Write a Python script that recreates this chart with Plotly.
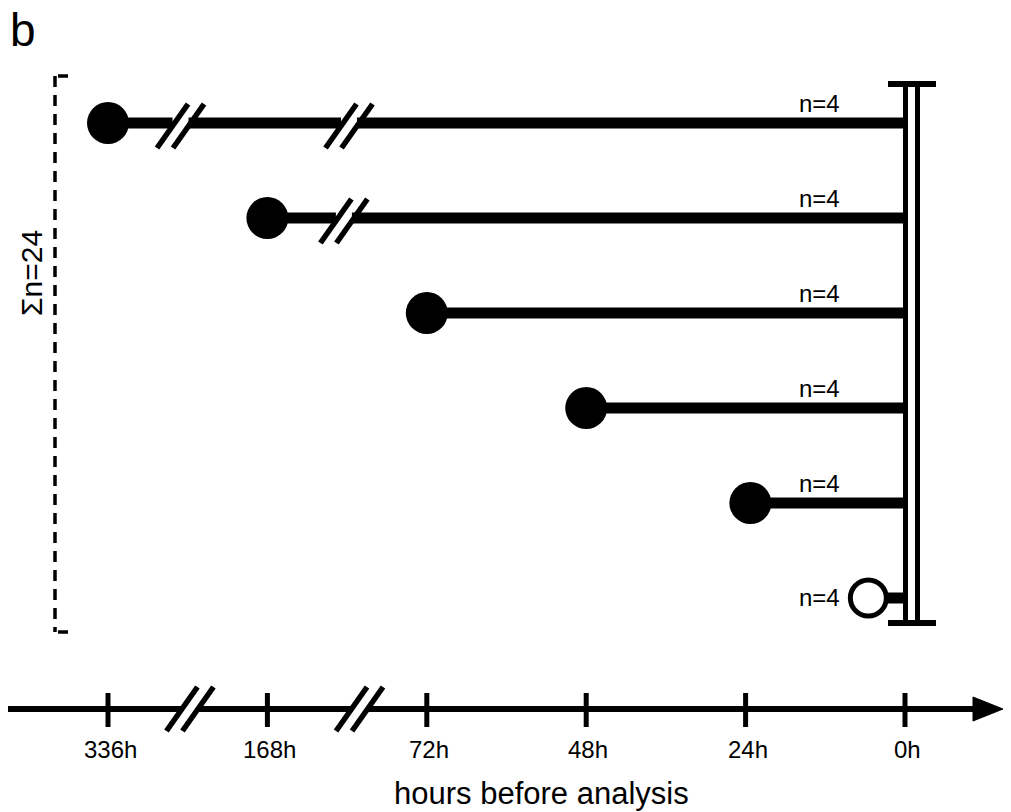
import plotly.graph_objects as go

# ---------------- data ----------------
tick_labels = ["336h", "168h", "72h", "48h", "24h", "0h"]
tick_pos = [0, 1, 2, 3, 4, 5]
rows = [0, 1, 2, 3, 4, 5]
start_x = [0.0, 1.0, 2.0, 3.0, 4.03, 4.77]
start_filled = [True, True, True, True, True, False]
end_x = 5
n_labels = ["n=4", "n=4", "n=4", "n=4", "n=4", "n=4"]
total_label = "Σn=24"
row_breaks = [[0.455, 1.512], [1.48], [], [], [], []]
axis_breaks = [0.514, 1.578]
axis_title = "hours before analysis"
panel_label = "b"

# ---------------- layout constants ----------------
W, H = 1011, 812
X0_PX, PX_PER_X = 108, 159.4
Y0_PX, PX_PER_ROW = 123, 95


def xu(px):
    return px / PX_PER_X


def yu(px):
    return px / PX_PER_ROW


def xv(px):
    return (px - X0_PX) / PX_PER_X


def yv(px):
    return (px - Y0_PX) / PX_PER_ROW


FONT = "Liberation Sans, Arial, Helvetica, sans-serif"
fig = go.Figure()

# slash geometry
SL_DX, SL_DY, SL_OFF = xu(15.5), yu(22), xu(8)


def slash_segments(cx, cy, dy_shift=0.0):
    xs, ys = [], []
    for s in (-SL_OFF, SL_OFF):
        xs += [cx + s - SL_DX, cx + s + SL_DX, None]
        ys += [cy + dy_shift + SL_DY, cy + dy_shift - SL_DY, None]
    return xs, ys


# timeline lines (broken at the // marks)
lx, ly = [], []
sx, sy = [], []
for r, x0, brks in zip(rows, start_x, row_breaks):
    pts = [x0]
    for b in brks:
        pts += [b - SL_OFF, b + SL_OFF]
    pts.append(end_x)
    for i in range(0, len(pts), 2):
        lx += [pts[i], pts[i + 1], None]
        ly += [r, r, None]
    for b in brks:
        a, c = slash_segments(b, r, yu(3))
        sx += a
        sy += c

fig.add_trace(go.Scatter(x=lx, y=ly, mode="lines",
                         line=dict(color="black", width=11), hoverinfo="skip"))

# axis
AX_Y = yv(709)
AX_LEFT = xv(8)
ARROW_BASE = xv(973)
ARROW_TIP = xv(1003)
ax_pts = [AX_LEFT]
for b in axis_breaks:
    ax_pts += [b - SL_OFF, b + SL_OFF]
ax_pts.append(ARROW_BASE)
axx, axy = [], []
for i in range(0, len(ax_pts), 2):
    axx += [ax_pts[i], ax_pts[i + 1], None]
    axy += [AX_Y, AX_Y, None]
for b in axis_breaks:
    a, c = slash_segments(b, AX_Y)
    sx += a
    sy += c
fig.add_trace(go.Scatter(x=axx, y=axy, mode="lines",
                         line=dict(color="black", width=6), hoverinfo="skip"))
fig.add_trace(go.Scatter(x=sx, y=sy, mode="lines",
                         line=dict(color="black", width=5.5), hoverinfo="skip"))
fig.add_trace(go.Scatter(x=[ARROW_BASE, ARROW_TIP, ARROW_BASE, ARROW_BASE],
                         y=[AX_Y - yu(12), AX_Y, AX_Y + yu(12), AX_Y - yu(12)],
                         mode="lines", fill="toself", fillcolor="black",
                         line=dict(color="black", width=1), hoverinfo="skip"))
# axis ticks
tx, ty = [], []
for p in tick_pos:
    tx += [p, p, None]
    ty += [yv(693), yv(727), None]
fig.add_trace(go.Scatter(x=tx, y=ty, mode="lines",
                         line=dict(color="black", width=5), hoverinfo="skip"))

# double vertical bar at 0h
BAR_TOP, BAR_BOT = yv(84), yv(623)
for off in (xu(0.5), xu(12.5)):
    fig.add_trace(go.Scatter(x=[end_x + off, end_x + off], y=[BAR_TOP - yu(3), BAR_BOT + yu(3)],
                             mode="lines", line=dict(color="black", width=5), hoverinfo="skip"))
for yy in (BAR_TOP, BAR_BOT):
    fig.add_trace(go.Scatter(x=[xv(888), xv(936)], y=[yy, yy], mode="lines",
                             line=dict(color="black", width=6), hoverinfo="skip"))

# start markers
fx = [x for x, f in zip(start_x, start_filled) if f]
fy = [r for r, f in zip(rows, start_filled) if f]
ox = [x for x, f in zip(start_x, start_filled) if not f]
oy = [r for r, f in zip(rows, start_filled) if not f]
fig.add_trace(go.Scatter(x=fx, y=fy, mode="markers",
                         marker=dict(size=42, color="black", line=dict(width=0)), hoverinfo="skip"))
fig.add_trace(go.Scatter(x=ox, y=oy, mode="markers",
                         marker=dict(size=36, color="white", line=dict(width=5, color="black")),
                         hoverinfo="skip"))

# dashed bracket
BR_X = xv(55)
BR_TOP, BR_BOT = yv(76), yv(632)
fig.add_trace(go.Scatter(x=[BR_X, BR_X], y=[BR_TOP, BR_BOT], mode="lines",
                         line=dict(color="black", width=3.5, dash="11px,8px"), hoverinfo="skip"))
for yy in (BR_TOP, BR_BOT):
    fig.add_trace(go.Scatter(x=[xv(58), xv(68)], y=[yy, yy], mode="lines",
                             line=dict(color="black", width=3.5), hoverinfo="skip"))

ann = []
# n labels
for r, lab in zip(rows, n_labels):
    dy = yu(-20) if r < 5 else yu(-1)
    ann.append(dict(x=xv(819), y=r + dy, text=lab, showarrow=False,
                    font=dict(family=FONT, size=24, color="black"),
                    xanchor="center", yanchor="middle"))
# tick labels
for p, lab in zip(tick_pos, tick_labels):
    ann.append(dict(x=p + xu(2), y=yv(749), text=lab, showarrow=False,
                    font=dict(family=FONT, size=24, color="black"),
                    xanchor="center", yanchor="middle"))
ann.append(dict(x=xv(541), y=yv(793), text=axis_title, showarrow=False,
                font=dict(family=FONT, size=31, color="black"),
                xanchor="center", yanchor="middle"))
ann.append(dict(x=xv(31), y=yv(273), text=total_label, showarrow=False, textangle=-90,
                font=dict(family=FONT, size=30, color="black"),
                xanchor="center", yanchor="middle"))
ann.append(dict(x=xv(23), y=yv(30), text=panel_label, showarrow=False,
                font=dict(family=FONT, size=46, color="black"),
                xanchor="center", yanchor="middle"))

fig.update_layout(
    width=W, height=H, autosize=False,
    margin=dict(l=0, r=0, t=0, b=0, pad=0),
    paper_bgcolor="white", plot_bgcolor="white",
    showlegend=False,
    xaxis=dict(range=[xv(0), xv(W)], visible=False, fixedrange=True),
    yaxis=dict(range=[yv(H), yv(0)], visible=False, fixedrange=True),
    annotations=ann,
)

fig.write_html("out.html", config={"displayModeBar": False},
               post_script="document.body.style.margin='0';")
